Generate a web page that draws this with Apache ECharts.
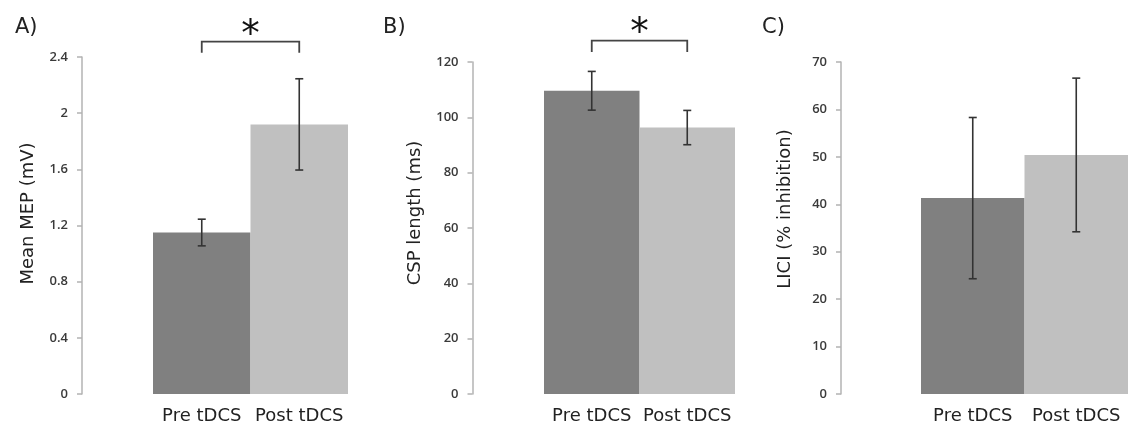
<!DOCTYPE html>
<html>
<head>
<meta charset="utf-8">
<script src="https://cdn.jsdelivr.net/npm/echarts@6/dist/echarts.min.js"></script>
<style>
html,body{margin:0;padding:0;background:#fff;}
#chart{width:1128px;height:431px;}
</style>
</head>
<body>
<div id="chart"></div>
<script>
// ---- data ----
const categories = ['Pre tDCS', 'Post tDCS'];
const panelLabels = ['A)', 'B)', 'C)'];
const axisTitles = ['Mean MEP (mV)', 'CSP length (ms)', 'LICI (% inhibition)'];

const mepMean = [1.15, 1.92];
const mepErr = [0.095, 0.325];
const cspMean = [109.6, 96.3];
const cspErr = [7.0, 6.2];
const liciMean = [41.3, 50.4];
const liciErr = [17.0, 16.2];

// axis ranges [min, max, interval]
const mepAxis = [0, 2.4, 0.4];
const cspAxis = [0, 120, 20];
const liciAxis = [0, 70, 10];

// significance annotation: [drop level, bracket level, star level] or null
const mepSig = [2.43, 2.51, 2.55];
const cspSig = [123.6, 127.7, 129.8];
const liciSig = null;

const barColors = ['#808080', '#c0c0c0'];

// ---- layout ----
const panels = [
  {mean: mepMean, err: mepErr, axis: mepAxis, sig: mepSig, left: 153, width: 195, top: 57, offset: 71, nameGap: 45, namePad: 24},
  {mean: cspMean, err: cspErr, axis: cspAxis, sig: cspSig, left: 544, width: 191, top: 62, offset: 71.5, nameGap: 48, namePad: 30},
  {mean: liciMean, err: liciErr, axis: liciAxis, sig: liciSig, left: 921, width: 210, top: 62, offset: 80, nameGap: 47, namePad: 38}
];
const titleLeft = [15, 383, 762];

const grids = [], xAxes = [], yAxes = [], series = [], titles = [];
panels.forEach((p, i) => {
  grids.push({left: p.left, width: p.width, top: p.top, bottom: 37, containLabel: false});
  xAxes.push({
    type: 'category', gridIndex: i, data: categories,
    axisLine: {show: false}, axisTick: {show: false},
    axisLabel: {fontFamily: 'DejaVu Sans', fontSize: 18, color: '#222', margin: 13, interval: 0}
  });
  yAxes.push({
    type: 'value', gridIndex: i, min: p.axis[0], max: p.axis[1], interval: p.axis[2],
    offset: p.offset,
    splitLine: {show: false},
    axisLine: {show: true, lineStyle: {color: '#b3b3b3', width: 1.5}},
    axisTick: {show: true, length: 5, lineStyle: {color: '#b3b3b3', width: 1.5}},
    axisLabel: {fontFamily: 'Open Sans', fontWeight: 600, fontSize: 13, color: '#3a3a3a', margin: 14},
    name: axisTitles[i], nameLocation: 'middle', nameGap: p.nameGap,
    nameTextStyle: {fontFamily: 'DejaVu Sans', fontSize: 18, color: '#222', padding: [0, 0, 0, p.namePad]}
  });
  titles.push({text: panelLabels[i], left: titleLeft[i], top: 17, padding: 0,
    textStyle: {fontFamily: 'DejaVu Sans', fontSize: 21, fontWeight: 'normal', color: '#222'}});

  series.push({
    type: 'bar', xAxisIndex: i, yAxisIndex: i, barWidth: '100%', barCategoryGap: '0%',
    data: p.mean.map((v, k) => ({value: v, itemStyle: {color: barColors[k]}})),
    silent: true
  });
  series.push({
    type: 'custom', xAxisIndex: i, yAxisIndex: i, silent: true, z: 5,
    data: p.mean.map((v, k) => [k, v - p.err[k], v + p.err[k]]),
    renderItem: function (params, api) {
      const x = api.value(0);
      const pHi = api.coord([x, api.value(2)]);
      const pLo = api.coord([x, api.value(1)]);
      const cap = 4;
      const st = {stroke: '#333', lineWidth: 1.6};
      return {type: 'group', children: [
        {type: 'line', shape: {x1: pHi[0], y1: pHi[1], x2: pLo[0], y2: pLo[1]}, style: st},
        {type: 'line', shape: {x1: pHi[0] - cap, y1: pHi[1], x2: pHi[0] + cap, y2: pHi[1]}, style: st},
        {type: 'line', shape: {x1: pLo[0] - cap, y1: pLo[1], x2: pLo[0] + cap, y2: pLo[1]}, style: st}
      ]};
    }
  });
  if (p.sig) {
    series.push({
      type: 'custom', xAxisIndex: i, yAxisIndex: i, silent: true, clip: false, z: 6,
      data: [[0, p.sig[0], p.sig[1], p.sig[2], 1]],
      renderItem: function (params, api) {
        const drop = api.value(1), lvl = api.value(2), star = api.value(3);
        const a = api.coord([0, lvl]), b = api.coord([1, lvl]);
        const ad = api.coord([0, drop]), bd = api.coord([1, drop]);
        const s = api.coord([0.5, star]);
        const st = {stroke: '#444', lineWidth: 1.8, fill: null};
        return {type: 'group', children: [
          {type: 'polyline', shape: {points: [[ad[0], ad[1]], [a[0], a[1]], [b[0], b[1]], [bd[0], bd[1]]]}, style: st},
          {type: 'text', x: (a[0] + b[0]) / 2, y: s[1],
            style: {text: '*', font: '37px "DejaVu Sans"', fill: '#111', align: 'center', verticalAlign: 'middle'}}
        ]};
      }
    });
  }
});

const chart = echarts.init(document.getElementById('chart'), null, {renderer: 'canvas'});
chart.setOption({
  animation: false,
  backgroundColor: '#fff',
  title: titles,
  grid: grids,
  xAxis: xAxes,
  yAxis: yAxes,
  series: series
});
</script>
</body>
</html>
